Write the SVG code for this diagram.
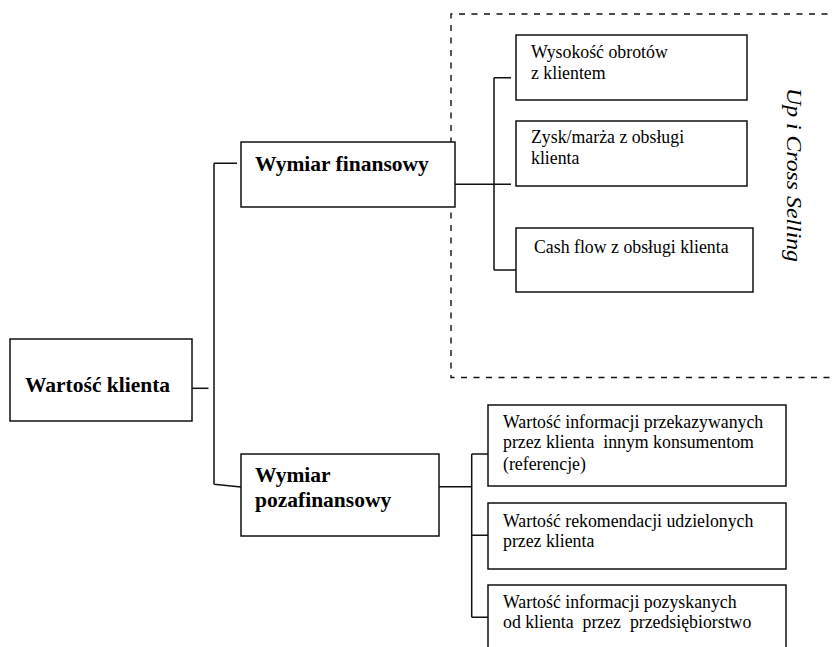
<svg xmlns="http://www.w3.org/2000/svg" width="833" height="647" viewBox="0 0 833 647">
<style>
.box{fill:#fff;stroke:#111;stroke-width:1.5}
.ln{fill:none;stroke:#111;stroke-width:1.5}
.dash{fill:none;stroke:#111;stroke-width:1.4;stroke-dasharray:6 6.5}
.b{font-family:"Liberation Serif","Times New Roman",serif;font-weight:bold;font-size:21.5px;fill:#000}
.t{font-family:"Liberation Serif","Times New Roman",serif;font-size:17.8px;fill:#000}
.r{font-family:"Liberation Serif","Times New Roman",serif;font-style:italic;font-size:20px;fill:#000}
</style>
<rect width="833" height="647" fill="#fff"/>
<path class="dash" d="M840 14 H451 V377.5 H840"/>
<text class="r" transform="translate(787,88) rotate(90)" textLength="174" lengthAdjust="spacingAndGlyphs">Up i Cross Selling</text>
<g id="connectors">
<path class="ln" d="M192 388.3 H208.5"/>
<path class="ln" d="M214 163.3 V484.3 M214 163.3 H237 M214 484.3 L241 487"/>
<path class="ln" d="M455 184.3 H511 M494 77.7 V270 M494 77.7 H511 M494 270 H516"/>
<path class="ln" d="M439 486.7 H471.7 M471.7 454 V617.3 M471.7 454 H488 M471.7 535.3 H488 M471.7 617.3 H488"/>
</g>
<g id="wartosc">
<rect class="box" x="10" y="339" width="182" height="82"/>
<text class="b" x="25" y="392">Wartość klienta</text>
</g>
<g id="finansowy">
<rect class="box" x="241" y="142" width="214" height="65"/>
<text class="b" x="255" y="171">Wymiar finansowy</text>
</g>
<g id="pozafinansowy">
<rect class="box" x="241" y="454" width="198" height="82"/>
<text class="b" x="255" y="482">Wymiar</text>
<text class="b" x="255" y="507">pozafinansowy</text>
</g>
<g id="obroty">
<rect class="box" x="516" y="35" width="231" height="65"/>
<text class="t" x="531" y="58">Wysokość obrotów</text>
<text class="t" x="531" y="79">z klientem</text>
</g>
<g id="zysk">
<rect class="box" x="516" y="121" width="231" height="65"/>
<text class="t" x="531" y="143">Zysk/marża z obsługi</text>
<text class="t" x="531" y="164">klienta</text>
</g>
<g id="cashflow">
<rect class="box" x="516" y="228" width="237" height="64"/>
<text class="t" x="534" y="253">Cash flow z obsługi klienta</text>
</g>
<g id="informacje">
<rect class="box" x="488" y="405" width="298" height="81"/>
<text class="t" x="503" y="428">Wartość informacji przekazywanych</text>
<text class="t" x="503" y="448" xml:space="preserve">przez klienta  innym konsumentom</text>
<text class="t" x="503" y="470">(referencje)</text>
</g>
<g id="rekomendacje">
<rect class="box" x="488" y="503" width="298" height="66"/>
<text class="t" x="503" y="527">Wartość rekomendacji udzielonych</text>
<text class="t" x="503" y="547">przez klienta</text>
</g>
<g id="pozyskane">
<rect class="box" x="488" y="585" width="298" height="80"/>
<text class="t" x="503" y="608">Wartość informacji pozyskanych</text>
<text class="t" x="503" y="628" xml:space="preserve">od klienta  przez  przedsiębiorstwo</text>
</g>
</svg>
